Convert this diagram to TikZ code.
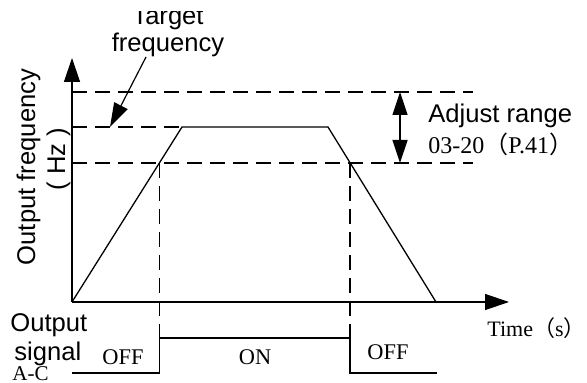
\documentclass[tikz,border=0pt]{standalone}
\usepackage{fontspec}
\setmainfont{Liberation Serif}
\setsansfont{Liberation Sans}
\newfontfamily\cjk{Noto Sans CJK SC}
\usetikzlibrary{positioning, arrows.meta, calc}
\tikzset{
  axis/.style   = {line width=0.65pt, -{Triangle[length=12pt, width=8pt]}},
  curve/.style  = {line width=0.65pt},
  guide/.style  = {line width=0.6pt, dash pattern=on 7.5pt off 4pt},
  ptr/.style    = {line width=0.6pt, -{Triangle[length=12pt, width=7.5pt]}},
  span/.style   = {line width=0.6pt, {Triangle[length=11.5pt, width=7.5pt]}-{Triangle[length=11.5pt, width=7.5pt]}},
  sflbl/.style  = {font=\sffamily\fontsize{12.8}{13.5}\selectfont, align=center, inner sep=0pt},
  rmlbl/.style  = {font=\rmfamily\fontsize{11.2}{13}\selectfont, inner sep=0pt},
}
\newcommand{\fwl}{{\cjk （}}
\newcommand{\fwr}{{\cjk ）}}

\begin{document}
\begin{tikzpicture}[x=0.5pt, y=-0.5pt]
  \useasboundingbox (0,0) rectangle (587,383);
  % key points of the frequency curve
  \coordinate (O)    at (72,302);
  \coordinate (ytip) at (72,58);
  \coordinate (xtip) at (509,302);
  \coordinate (up)   at (182,127);
  \coordinate (dn)   at (328,127);
  \coordinate (stop) at (436,302);
  \coordinate (on)   at (159.5,163);
  \coordinate (off)  at (350,163);
  % guide lines
  \coordinate (maxL) at (72,92);  \coordinate (maxR) at (473,92);
  \coordinate (minL) at (72,163); \coordinate (minR) at (473,163);
  \coordinate (tgtL) at (72,127);
  \draw[guide] (maxL) -- (maxR);
  \draw[guide] (minL) -- (minR);
  \draw[guide] (tgtL) -- (up);
  % output signal
  \coordinate (sig0) at (72,373);
  \coordinate (sigA) at (159.5,373); \coordinate (sigB) at (159.5,338);
  \coordinate (sigC) at (350,338);   \coordinate (sigD) at (350,373);
  \coordinate (sig1) at (437,373);
  \draw[guide] (on) -- (sigB);
  \draw[guide] (off) -- (sigC);
  \draw[curve] (sig0) -- (sigA) -- (sigB) -- (sigC) -- (sigD) -- (sig1);
  % axes and curve
  \draw[axis] (O) -- (ytip);
  \draw[axis] (O) -- (xtip);
  \draw[curve] (O) -- (up) -- (dn) -- (stop);
  % adjust range
  \coordinate (rngT) at (400,92); \coordinate (rngB) at (400,163);
  \draw[span] (rngT) -- (rngB);
  \node[sflbl, anchor=base west] (adj) at (428,123) {Adjust range};
  \node[rmlbl, anchor=base west, font=\rmfamily\fontsize{12}{13}\selectfont] (par) at (428,154) {03-20\fwl P.41\fwr};
  % target frequency
  \begin{scope}
    \clip (0,12) rectangle (587,383);
    \node[sflbl, anchor=south] (tgt) at (168,57.5) {Target\\frequency};
  \end{scope}
  \coordinate (tgtsrc) at (146,57);
  \coordinate (tgtpt)  at (110,127);
  \draw[ptr] (tgtsrc) -- (tgtpt);
  % axis labels
  \node[sflbl, rotate=90, anchor=base] (ylbl) at (35,167) {Output frequency};
  \node[sflbl, rotate=90, anchor=base] (unit) at (65,159) {( Hz )};
  \node[rmlbl, anchor=base west, font=\rmfamily\fontsize{11}{13}\selectfont] (tlbl) at (487,337) {Time\fwl s\fwr};
  \node[sflbl, anchor=base west] (out) at (10,332) {Output};
  \node[sflbl, anchor=base west] (sig) at (14,361) {signal};
  \node[rmlbl, anchor=base west, font=\rmfamily\fontsize{10.5}{12}\selectfont] (ac) at (12,381) {A-C};
  \node[rmlbl, anchor=base] (off1) at (123,365) {OFF};
  \node[rmlbl, anchor=base] (onl)  at (255,365) {ON};
  \node[rmlbl, anchor=base] (off2) at (388,360) {OFF};
\end{tikzpicture}
\end{document}
